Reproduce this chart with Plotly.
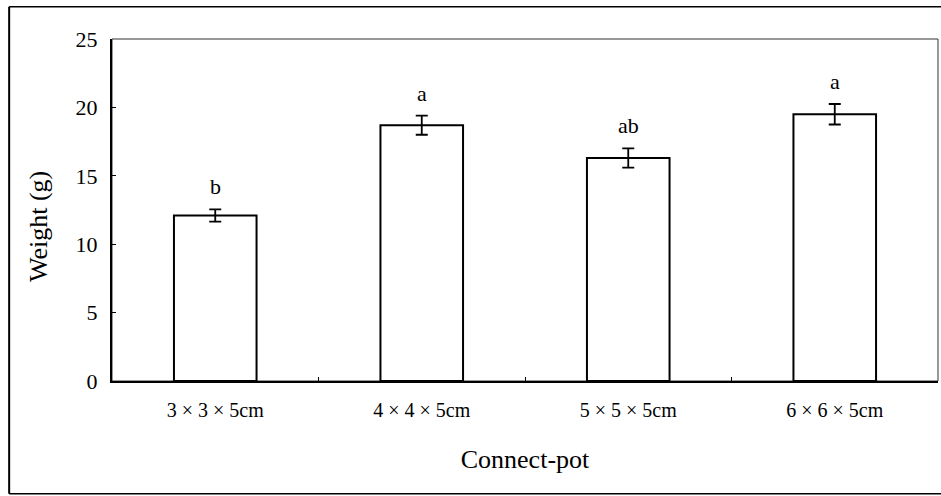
import plotly.graph_objects as go

categories = ["3 × 3 × 5cm", "4 × 4 × 5cm", "5 × 5 × 5cm", "6 × 6 × 5cm"]
weights = [12.1, 18.7, 16.3, 19.5]
errors = [0.45, 0.7, 0.7, 0.75]
letters = ["b", "a", "ab", "a"]
y_ticks = [0, 5, 10, 15, 20, 25]

FONT = "Liberation Serif"

fig = go.Figure()
fig.add_trace(go.Bar(
    x=categories, y=weights, width=0.4,
    marker=dict(color="white", line=dict(color="black", width=2)),
    error_y=dict(type="data", array=errors, visible=True, color="black", thickness=1.8, width=6),
    showlegend=False, hoverinfo="skip",
))

for c, v, e, t in zip(categories, weights, errors, letters):
    fig.add_annotation(x=c, y=v + e, text=t, showarrow=False, yanchor="bottom", yshift=8,
                       font=dict(family=FONT, size=22, color="black"))

# y-axis title
fig.add_annotation(xref="paper", yref="paper", x=-0.0896, y=0.453, text="Weight (g)",
                   textangle=-90, showarrow=False, xanchor="center", yanchor="middle",
                   font=dict(family=FONT, size=26, color="black"))

# thin top/right frame of plot area
fig.add_shape(type="rect", xref="paper", yref="paper", x0=0, y0=0, x1=1, y1=1,
              line=dict(color="#333", width=1), layer="below")
# outer frame (left, top, bottom)
fig.add_shape(type="line", xref="paper", yref="paper", x0=-0.1245, x1=-0.1245, y0=-0.33, y1=1.094,
              line=dict(color="black", width=2))
fig.add_shape(type="line", xref="paper", yref="paper", x0=-0.1245, x1=1.01, y0=1.094, y1=1.094,
              line=dict(color="black", width=1.5))
fig.add_shape(type="line", xref="paper", yref="paper", x0=-0.1245, x1=1.01, y0=-0.33, y1=-0.33,
              line=dict(color="black", width=1.5))

fig.update_layout(
    width=941, height=496,
    margin=dict(l=112, r=3, t=39, b=115),
    paper_bgcolor="white", plot_bgcolor="white",
    font=dict(family=FONT, color="black"),
    bargap=0.6,
)
fig.update_xaxes(
    showline=True, linecolor="black", linewidth=2,
    ticks="inside", ticklen=4, tickcolor="black", tickson="boundaries",
    tickfont=dict(family=FONT, size=20, color="black"),
    ticklabelstandoff=10,
    title=dict(text="Connect-pot", font=dict(family=FONT, size=26, color="black"), standoff=30),
    showgrid=False,
)
fig.update_yaxes(
    range=[0, 25], tickvals=y_ticks,
    showline=True, linecolor="black", linewidth=2,
    ticks="inside", ticklen=4, tickcolor="black",
    tickfont=dict(family=FONT, size=22, color="black"),
    ticklabelstandoff=8,
    showgrid=False, zeroline=False,
)

fig.write_html("out.html", config={"displayModeBar": False},
               post_script="document.body.style.margin='0';")
